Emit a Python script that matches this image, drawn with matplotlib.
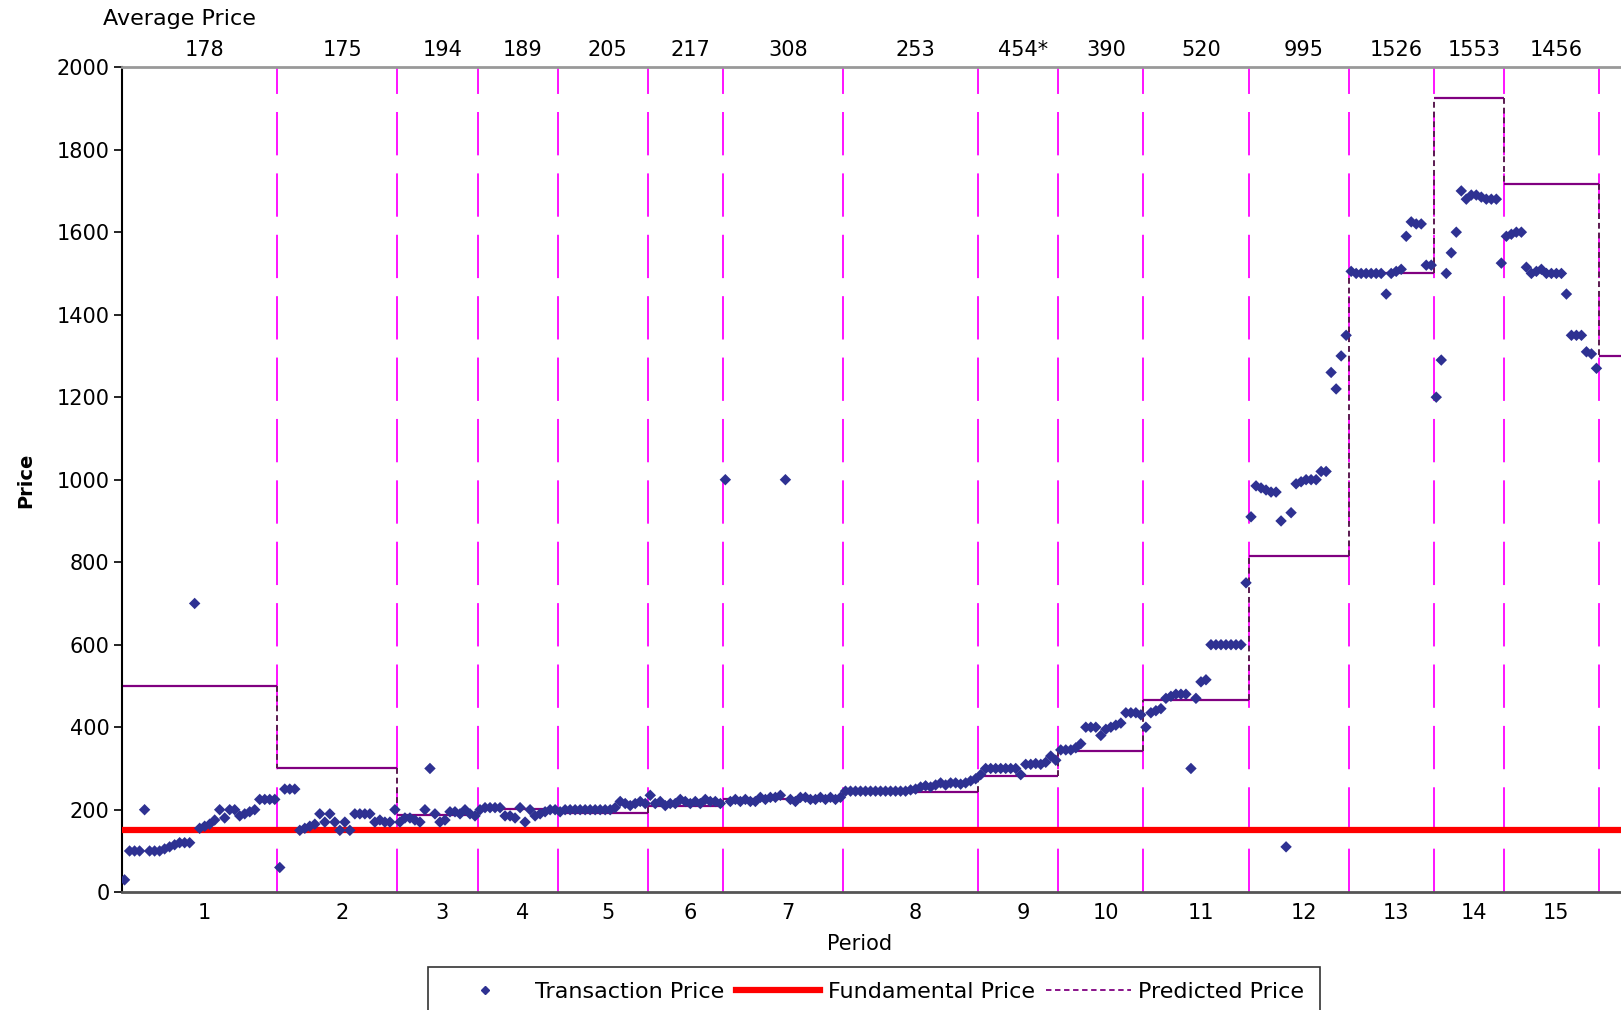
import numpy as np
import matplotlib.pyplot as plt

plt.rcParams['font.family'] = ['DejaVu Sans']

period_labels = [str(i) for i in range(1, 16)]
avg_price = ['178', '175', '194', '189', '205', '217', '308', '253', '454*',
             '390', '520', '995', '1526', '1553', '1456']
predicted = [500, 300, 187, 201, 191, 210, 227, 243, 282, 342, 466, 815,
             1500, 1925, 1716, 1300]
fundamental = 150

# transaction prices, one list per period
p1 = [30, 100, 100, 100, 200, 100, 100, 100, 105, 110, 115, 120, 120, 120, 700,
      155, 160, 165, 175, 200, 180, 200, 200, 185, 190, 195, 200, 225, 225, 225, 225]
p2 = [60, 250, 250, 250, 150, 155, 160, 165, 190, 170, 190, 170, 150, 170, 150,
      190, 190, 190, 190, 170, 175, 170, 170, 200]
p3 = [170, 180, 180, 175, 170, 200, 300, 190, 170, 175, 195, 195, 190, 200, 190, 185]
p4 = [200, 205, 205, 205, 205, 185, 185, 180, 205, 170, 200, 185, 190, 195, 200, 200]
p5 = [195, 200, 200, 200, 200, 200, 200, 200, 200, 200, 200, 205, 220, 215, 210,
      215, 220, 215]
p6 = [235, 215, 220, 210, 215, 215, 225, 220, 215, 220, 215, 225, 220, 220, 215]
p7 = [1000, 220, 225, 220, 225, 220, 220, 230, 225, 230, 230, 235, 1000, 225, 220,
      230, 230, 225, 225, 230, 225, 230, 225, 230]
p8 = [245] * 13 + [248, 250, 255, 258, 255, 260, 265, 260, 265, 265, 262, 265, 270, 275]
p9 = [285, 300, 300, 300, 300, 300, 300, 300, 285, 310, 310, 312, 310, 315, 330, 320]
p10 = [345, 345, 345, 350, 360, 400, 400, 400, 380, 395, 400, 405, 410, 435, 435,
       435, 430]
p11 = [400, 435, 440, 445, 470, 475, 480, 480, 480, 300, 470, 510, 515, 600, 600,
       600, 600, 600, 600, 600, 750]
p12 = [910, 985, 980, 975, 970, 970, 900, 110, 920, 990, 995, 1000, 1000, 1000,
       1020, 1020, 1260, 1220, 1300, 1350]
p13 = [1505, 1500, 1500, 1500, 1500, 1500, 1500, 1450, 1500, 1505, 1510, 1590,
       1625, 1620, 1620, 1520, 1520]
p14 = [1200, 1290, 1500, 1550, 1600, 1700, 1680, 1690, 1690, 1685, 1680, 1680,
       1680, 1525]
p15 = [1590, 1595, 1600, 1600, 1515, 1500, 1505, 1510, 1500, 1500, 1500, 1500,
       1450, 1350, 1350, 1350, 1310, 1305, 1270]
transactions = [p1, p2, p3, p4, p5, p6, p7, p8, p9, p10, p11, p12, p13, p14, p15]

counts = [len(p) for p in transactions]
bounds = np.concatenate([[0], np.cumsum(counts)])
x = np.concatenate([np.arange(b, b + n) + 0.5 for b, n in zip(bounds[:-1], counts)])
y = np.concatenate(transactions)
x_end = bounds[-1] + 4.4
edges = list(bounds) + [x_end]
centers = (bounds[:-1] + bounds[1:]) / 2

fig = plt.figure(figsize=(16.21, 10.10), dpi=100)
ax = fig.add_axes([0.0753, 0.1166, 1 - 0.0753, 0.9335 - 0.1166])

# period separators
for b in bounds[1:]:
    ax.axvline(b, color='#FF00FF', lw=1.3, ls=(0, (24, 10)), zorder=1)

# predicted price steps
for i, v in enumerate(predicted):
    ax.hlines(v, edges[i], edges[i + 1], color='#800080', lw=1.6, zorder=2)
    if i > 0:
        ax.vlines(edges[i], predicted[i - 1], v, color='#5A1A50', lw=1.4,
                  linestyles=(0, (3, 2)), zorder=2)

ax.axhline(fundamental, color='#FF0000', lw=4.5, zorder=3)
ax.scatter(x, y, marker='D', s=34, color='#2E3192', edgecolors='none', zorder=4)

ax.set_xlim(0, x_end)
ax.set_ylim(0, 2000)
ax.set_yticks(range(0, 2001, 200))
ax.tick_params(axis='y', direction='out', length=6, width=1.2, labelsize=15, pad=3)
ax.set_xticks(centers + 1)
ax.set_xticklabels(period_labels)
ax.tick_params(axis='x', length=0, labelsize=15, pad=8)

ax.spines['right'].set_visible(False)
ax.spines['top'].set_color('#999999')
ax.spines['top'].set_linewidth(2)
ax.spines['left'].set_linewidth(1.5)
ax.spines['bottom'].set_color('#555555')
ax.spines['bottom'].set_linewidth(2)

for cx, lab in zip(centers, avg_price):
    ax.text(cx + 1, 1.0 + 17 / 825, lab, transform=ax.get_xaxis_transform(),
            ha='center', va='center', fontsize=15)
fig.text(0.111, 0.981, 'Average Price', ha='center', va='center', fontsize=16)

fig.text(0.53, 0.0653, 'Period', ha='center', va='center', fontsize=15)
fig.text(0.016, 0.524, 'Price', ha='center', va='center', rotation=90,
         fontsize=14, fontweight='bold')

h1 = plt.Line2D([], [], marker='D', color='#2E3192', ls='none', markersize=4)
h2 = plt.Line2D([], [], color='#FF0000', lw=4.5)
h3 = plt.Line2D([], [], color='#800080', lw=1.3, ls=(0, (3, 2)))
leg = fig.legend([h1, h2, h3], ['Transaction Price', 'Fundamental Price', 'Predicted Price'],
                 loc='upper center', bbox_to_anchor=(0.539, 0.043), ncol=3,
                 fontsize=16, frameon=True, fancybox=False, handlelength=3.8,
                 columnspacing=0.5, handletextpad=0.35, borderpad=0.7,
                 borderaxespad=0)
leg.get_frame().set_edgecolor('black')
leg.get_frame().set_linewidth(1.2)

fig.savefig('out.png', dpi=100)
